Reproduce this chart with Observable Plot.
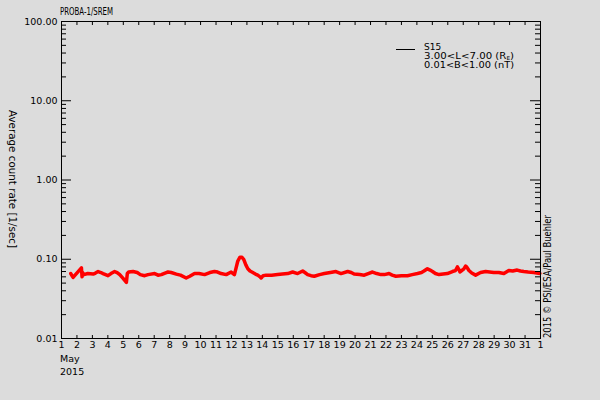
<!DOCTYPE html>
<html><head><meta charset="utf-8">
<script src="https://cdn.jsdelivr.net/npm/d3@7"></script>
<script src="https://cdn.jsdelivr.net/npm/@observablehq/plot@0.6"></script>
<style>
html,body{margin:0;padding:0;background:#dcdcdc;}
svg text{font-family:"DejaVu Sans",sans-serif;}
</style>
</head><body><div id="chart"></div>
<script>
// Time in days of May 2015 (32 = 1 June)
const days = [1.60,1.68,1.75,2.29,2.33,2.36,2.45,2.7,3.05,3.2,3.37,3.55,3.69,3.85,4.01,4.2,4.44,4.6,4.77,5.0,5.20,5.26,5.35,5.63,5.9,6.1,6.38,6.6,7.03,7.25,7.46,7.7,7.89,8.1,8.43,8.7,9.07,9.3,9.61,9.9,10.26,10.6,10.9,11.1,11.33,11.66,11.98,12.19,12.3,12.41,12.55,12.68,12.80,12.93,13.06,13.2,13.38,13.55,13.70,13.85,13.92,14.05,14.24,14.6,14.99,15.3,15.64,15.96,16.28,16.61,16.75,16.93,17.15,17.36,17.7,18.01,18.4,18.76,19.09,19.52,19.75,19.94,20.3,20.59,20.85,21.13,21.4,21.67,21.9,22.20,22.4,22.64,23.0,23.39,23.7,24.04,24.3,24.46,24.68,24.85,25.01,25.2,25.43,25.7,25.97,26.30,26.5,26.62,26.72,26.79,26.9,27.03,27.15,27.22,27.37,27.55,27.80,28.12,28.45,28.7,28.98,29.3,29.63,29.95,30.2,30.49,30.7,30.92,31.2,31.57,31.96];
const counts = [0.066,0.062,0.059,0.078,0.060,0.068,0.064,0.066,0.065,0.067,0.070,0.068,0.066,0.064,0.062,0.066,0.070,0.068,0.064,0.057,0.051,0.066,0.069,0.070,0.068,0.064,0.062,0.064,0.066,0.063,0.064,0.067,0.069,0.068,0.065,0.063,0.058,0.061,0.066,0.066,0.064,0.068,0.070,0.069,0.066,0.064,0.069,0.064,0.078,0.095,0.106,0.106,0.099,0.085,0.076,0.071,0.068,0.065,0.063,0.060,0.058,0.062,0.063,0.063,0.064,0.065,0.066,0.069,0.066,0.071,0.068,0.064,0.062,0.061,0.064,0.066,0.068,0.070,0.066,0.070,0.068,0.065,0.064,0.063,0.066,0.069,0.066,0.064,0.064,0.066,0.063,0.061,0.062,0.062,0.064,0.066,0.068,0.071,0.076,0.073,0.070,0.066,0.064,0.065,0.066,0.070,0.072,0.080,0.074,0.069,0.072,0.075,0.082,0.080,0.072,0.067,0.063,0.068,0.070,0.069,0.068,0.068,0.066,0.072,0.071,0.073,0.071,0.070,0.069,0.068,0.066];

const dayTicks = [1,2,3,4,5,6,7,8,9,10,11,12,13,14,15,16,17,18,19,20,21,22,23,24,25,26,27,28,29,30,31,32];
const dayLabels = ["1","2","3","4","5","6","7","8","9","10","11","12","13","14","15","16","17","18","19","20","21","22","23","24","25","26","27","28","29","30","31","1"];
const majorY = [0.01,0.1,1,10,100];
const yLabels = ["0.01","0.10","1.00","10.00","100.00"];
const minorY = majorY.slice(0,4).flatMap(m => [2,3,4,5,6,7,8,9].map(k => +(m*k).toPrecision(3)));

const title = "PROBA-1/SREM";
const monthLabel = "May";
const yearLabel = "2015";
const yTitle = "Average count rate [1/sec]";
const credit = "2015 © PSI/ESA/Paul Buehler";
const seriesName = "S15";

const data = days.map((d,i) => ({day:d, count:counts[i]}));

const W=600, H=400, mL=61, mR=60, mT=21, mB=62;
const pw = W-mL-mR, ph = H-mT-mB;

const chart = Plot.plot({
  width:W, height:H, marginLeft:mL, marginRight:mR, marginTop:mT, marginBottom:mB,
  style:{background:"#dcdcdc", fontFamily:"DejaVu Sans", fontSize:"9.5px", color:"black"},
  x:{type:"linear", domain:[1,32]},
  y:{type:"log", domain:[0.01,100]},
  marks:[
    Plot.line(data,{x:"day", y:"count", stroke:"#ff0000", strokeWidth:3.5}),
    Plot.tickY(majorY,{y:d=>d, insetRight:pw-10, stroke:"black"}),
    Plot.tickY(majorY,{y:d=>d, insetLeft:pw-10, stroke:"black"}),
    Plot.tickY(minorY,{y:d=>d, insetRight:pw-5, stroke:"black"}),
    Plot.tickY(minorY,{y:d=>d, insetLeft:pw-5, stroke:"black"}),
    Plot.tickX(dayTicks,{x:d=>d, insetBottom:ph-4, stroke:"black"}),
    Plot.tickX(dayTicks,{x:d=>d, insetTop:ph-3, stroke:"black"}),
    Plot.axisY({ticks:majorY, tickSize:0, tickPadding:4, tickFormat:d=>yLabels[majorY.indexOf(d)], label:null}),
    Plot.axisX({ticks:dayTicks, tickSize:0, tickPadding:3, tickFormat:d=>dayLabels[dayTicks.indexOf(d)], label:null}),
    Plot.frame({stroke:"black"})
  ]
});
document.getElementById("chart").appendChild(chart);

const svg = d3.select(chart);
const fs = "9.5px";
const g = svg.append("g").attr("text-anchor","start").attr("fill","black");
g.append("text").attr("x",60).attr("y",14.5).attr("font-size","11px")
  .attr("textLength",53).attr("lengthAdjust","spacingAndGlyphs").text(title);
g.append("text").attr("x",60).attr("y",362).attr("font-size",fs).text(monthLabel);
g.append("text").attr("x",60).attr("y",375).attr("font-size",fs).text(yearLabel);
g.append("text").attr("transform","translate(12,179) rotate(90)").attr("text-anchor","middle")
  .attr("dy","0.35em").attr("font-size","10px").attr("textLength",138).attr("lengthAdjust","spacingAndGlyphs").text(yTitle);
g.append("text").attr("transform","translate(547,338) rotate(-90)").attr("text-anchor","start")
  .attr("dy","0.35em").attr("font-size","10px").attr("textLength",123).attr("lengthAdjust","spacingAndGlyphs").text(credit);

// legend
g.append("line").attr("x1",396).attr("x2",415).attr("y1",49.5).attr("y2",49.5).attr("stroke","black").attr("shape-rendering","crispEdges");
g.append("text").attr("x",424).attr("y",50).attr("font-size","9px").text(seriesName);
const l2 = g.append("text").attr("x",424).attr("y",59).attr("font-size","9px")
  .attr("textLength",90).attr("lengthAdjust","spacingAndGlyphs");
l2.append("tspan").text("3.00<L<7.00 (R");
l2.append("tspan").attr("font-size","5px").attr("dy","1").text("E");
l2.append("tspan").attr("dy","-1").text(")");
g.append("text").attr("x",424).attr("y",68).attr("font-size","9px")
  .attr("textLength",90).attr("lengthAdjust","spacingAndGlyphs").text("0.01<B<1.00 (nT)");
</script>
</body></html>
